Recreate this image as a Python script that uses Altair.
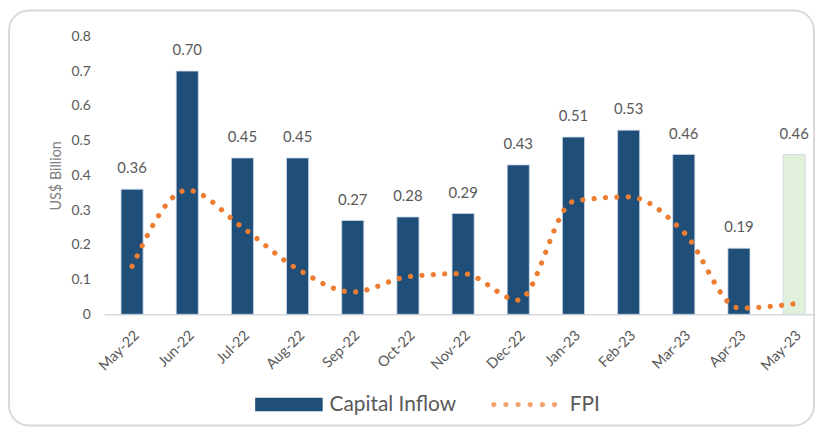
import altair as alt
import pandas as pd

months = ["May-22", "Jun-22", "Jul-22", "Aug-22", "Sep-22", "Oct-22", "Nov-22",
          "Dec-22", "Jan-23", "Feb-23", "Mar-23", "Apr-23", "May-23"]
capital_inflow = [0.36, 0.70, 0.45, 0.45, 0.27, 0.28, 0.29, 0.43, 0.51, 0.53, 0.46, 0.19, 0.46]
fpi = [0.138, 0.357, 0.25, 0.13, 0.064, 0.108, 0.117, 0.041, 0.325, 0.338, 0.236, 0.018, 0.03]
bar_kind = ["Capital Inflow"] * 12 + ["Latest"]
y_ticks = [0, 0.1, 0.2, 0.3, 0.4, 0.5, 0.6, 0.7, 0.8]

df = pd.DataFrame({"month": months, "capital": capital_inflow, "fpi": fpi,
                   "kind": bar_kind, "series": ["FPI"] * len(months)})

FONT = "Lato"
GREY = "#595959"
BLUE = "#1F4E79"
GREEN = "#E2EFDA"
ORANGE = "#ED7D31"

BAR_SYMBOL = "M-1,-0.2H1V0.2H-1Z"
DOT_CENTERS = [-0.85, -0.51, -0.17, 0.17, 0.51, 0.85]
DOT_SYMBOL = " ".join(
    f"M{c - 0.074:.3f},0 a0.074,0.074 0 1,0 0.148,0 a0.074,0.074 0 1,0 -0.148,0 Z"
    for c in DOT_CENTERS
)

x_axis = alt.Axis(title=None, labelAngle=-45, ticks=False,
                  domainColor="#D9D9D9", domainWidth=1.5,
                  labelColor=GREY, labelFontSize=14.5, labelFont=FONT,
                  labelPadding=14)
x_scale = alt.Scale(paddingInner=0.6, paddingOuter=0.241, align=0.63)
y_axis = alt.Axis(title="US$ Billion", values=y_ticks, tickCount=9, format=".1~f",
                  grid=False, domain=False, ticks=False, labelOverlap=False,
                  labelColor=GREY, labelFontSize=14, labelFont=FONT,
                  labelPadding=14, titleColor="#7F7F7F", titleFontSize=14.5,
                  titleFont=FONT, titleFontWeight="normal", titlePadding=8)
y_scale = alt.Scale(domain=[0, 0.8], nice=False)


def xe():
    return alt.X("month:N", sort=months, scale=x_scale, axis=x_axis)


def ye(field):
    return alt.Y(field, scale=y_scale, axis=y_axis)


base = alt.Chart(df)

bars = base.mark_bar(stroke="#C9D6E8", strokeWidth=0.8).encode(
    x=xe(),
    y=ye("capital:Q"),
    fill=alt.Fill("kind:N",
                  scale=alt.Scale(domain=["Capital Inflow", "Latest"], range=[BLUE, GREEN]),
                  legend=alt.Legend(values=["Capital Inflow"], title=None, orient="none",
                                    legendX=152, legendY=337, symbolType=BAR_SYMBOL,
                                    symbolSize=4624, labelFontSize=21, labelFont=FONT,
                                    labelColor=GREY, labelOffset=7, padding=0,
                                    symbolStrokeWidth=0)),
)

labels = base.mark_text(dy=-21, fontSize=15, font=FONT, color=GREY).encode(
    x=xe(),
    y=ye("capital:Q"),
    text=alt.Text("capital:Q", format=".2f"),
)

line = base.mark_line(color=ORANGE, strokeWidth=5.3, strokeDash=[0.01, 11.5],
                      strokeCap="round", interpolate="monotone").encode(
    x=xe(),
    y=ye("fpi:Q"),
)

legend_pts = base.mark_point(filled=True, size=0, color=ORANGE).encode(
    x=xe(),
    y=ye("fpi:Q"),
    shape=alt.Shape("series:N",
                    scale=alt.Scale(domain=["FPI"], range=[DOT_SYMBOL]),
                    legend=alt.Legend(title=None, orient="none", legendX=387, legendY=335,
                                      symbolSize=5184, labelFontSize=21, labelFont=FONT,
                                      labelColor=GREY, labelOffset=10, padding=0,
                                      symbolFillColor=ORANGE, symbolStrokeWidth=0)),
)

border = alt.Chart(alt.Data(values=[{}])).mark_rect(
    fillOpacity=0, stroke="#D9D9D9", strokeWidth=2, cornerRadius=20
).encode(x=alt.value(-96), x2=alt.value(715), y=alt.value(-26), y2=alt.value(392))

chart = alt.layer(border, bars, line, labels, legend_pts).resolve_scale(
    fill="independent", shape="independent"
).properties(
    width=716, height=280,
    autosize=alt.AutoSizeParams(type="none"),
    padding={"left": 97, "top": 27, "right": 0, "bottom": 113},
).configure_view(stroke=None)

chart.save("out.html", embed_options={"renderer": "svg", "actions": False})
